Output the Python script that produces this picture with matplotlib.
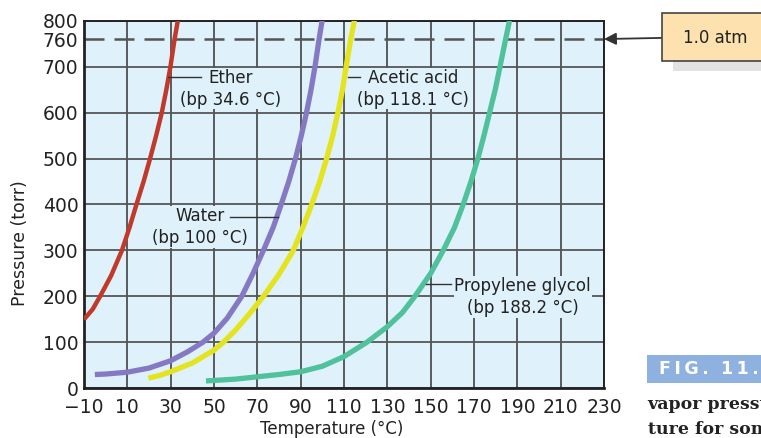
import matplotlib.pyplot as plt
from matplotlib.patches import Rectangle

# okunan veriler (sicaklik C, basinc torr)
ether_t = [-10, -6, -2.6, 2.5, 7.5, 11, 14.2, 17.5, 20.5, 23.3, 25.9, 28, 29.9, 31.8, 33.3]
ether_p = [150, 172, 200, 245, 300, 350, 400, 450, 500, 550, 600, 650, 700, 760, 800]

water_t = [-5, 0, 10, 20, 30, 38, 44.8, 50, 56, 62.8, 68, 72.8, 77.3, 81, 84.5,
           87.6, 90.3, 92.7, 94.8, 96.6, 98.5, 99.9]
water_p = [30, 31, 35, 44, 60, 80, 100, 120, 152, 200, 250, 300, 350, 400, 450,
           500, 550, 600, 650, 700, 760, 800]

acetic_t = [19.7, 25, 30, 40, 50, 54.3, 60, 66, 72.8, 80, 86.6, 91, 95.1, 98.8,
            102, 104.8, 107.2, 109.3, 111, 113.1, 114.8]
acetic_p = [22, 28, 36, 55, 83, 100, 127, 160, 200, 248, 300, 350, 400, 450,
            500, 550, 600, 650, 700, 760, 800]

glycol_t = [46.3, 60, 70, 80, 90, 100, 110, 120.5, 130, 137, 142.7, 150, 155.8,
            161, 165, 168.6, 171.8, 174.6, 177.2, 179.8, 182, 184.6, 186.4]
glycol_p = [16, 20, 25, 30, 36, 48, 69, 100, 134, 165, 200, 250, 300,
            350, 400, 450, 500, 550, 600, 650, 700, 760, 800]

x_ticks = list(range(-10, 231, 20))
y_ticks = [0, 100, 200, 300, 400, 500, 600, 700, 760, 800]

plt.rcParams['font.family'] = ['DejaVu Sans']

fig = plt.figure(figsize=(7.61, 4.38), dpi=100)
ax = fig.add_axes([0.1104, 0.1135, 0.6833, 0.8393])
ax.set_facecolor('#dff1fa')
ax.set_xlim(-10, 230)
ax.set_ylim(0, 800)

# izgara
for x in x_ticks:
    ax.axvline(x, color='#333333', lw=1.1, zorder=1)
for y in range(0, 801, 100):
    ax.axhline(y, color='#555555', lw=1.3, zorder=1)
ax.axhline(760, color='#555555', lw=1.8, dashes=(8, 4), zorder=1)

# egriler
ax.plot(ether_t, ether_p, color='#c0392b', lw=3.2, solid_capstyle='butt',
        solid_joinstyle='round', zorder=3)
ax.plot(water_t, water_p, color='#8679c4', lw=3.8, solid_capstyle='butt',
        solid_joinstyle='round', zorder=3)
ax.plot(acetic_t, acetic_p, color='#e4e41e', lw=3.8, solid_capstyle='butt',
        solid_joinstyle='round', zorder=3)
ax.plot(glycol_t, glycol_p, color='#4fc29b', lw=3.8, solid_capstyle='butt',
        solid_joinstyle='round', zorder=3)

ax.set_xticks(x_ticks)
ax.set_yticks(y_ticks)
ax.tick_params(length=0, labelsize=13.5, colors='#222222', pad=4)
ax.tick_params(axis='x', pad=7)
for s in ax.spines.values():
    s.set_color('#222222')
    s.set_linewidth(1.4)
ax.spines['left'].set_linewidth(2)
ax.spines['bottom'].set_linewidth(2)
ax.set_xlabel('Temperature (°C)', fontsize=12, color='#222222')
ax.set_ylabel('Pressure (torr)', fontsize=12.5, color='#222222')
ax.xaxis.set_label_coords(0.477, -0.086)
ax.yaxis.set_label_coords(-0.106, 0.394)

# etiketler
bg = dict(facecolor='#dff1fa', edgecolor='none', pad=0.5)
lab = dict(fontsize=12, color='#222222', ha='center', va='center', zorder=4,
           linespacing=1.3, bbox=bg)
ax.text(57.6, 652, 'Ether\n(bp 34.6 °C)', **lab)
ax.plot([28.8, 44.0], [677, 677], color='#333333', lw=1, zorder=5)
ax.text(43.5, 351, 'Water\n(bp 100 °C)', **lab)
ax.plot([57.4, 79.5], [373, 373], color='#333333', lw=1, zorder=5)
ax.text(142.0, 652, 'Acetic acid\n(bp 118.1 °C)', **lab)
ax.plot([111.8, 117.6], [677, 677], color='#333333', lw=1, zorder=5)
ax.text(192.4, 199, 'Propylene glycol\n(bp 188.2 °C)', **lab)
ax.plot([148.0, 159.5], [226, 226], color='#333333', lw=1, zorder=5)

# 1.0 atm kutusu
fig.patches.append(Rectangle((0.885, 0.838), 0.14, 0.1, transform=fig.transFigure,
                             facecolor='#d0d0d0', edgecolor='none', alpha=0.6))
fig.patches.append(Rectangle((0.870, 0.861), 0.14, 0.109, transform=fig.transFigure,
                             facecolor='#fde2b0', edgecolor='#444444', lw=1.2))
fig.text(0.94, 0.913, '1.0 atm', fontsize=12, color='#222222',
         ha='center', va='center')
ax.annotate('', xy=(230, 760), xytext=(0.870, 0.9135),
            xycoords='data', textcoords='figure fraction',
            arrowprops=dict(arrowstyle='-|>', color='#333333', lw=1.3,
                            mutation_scale=18, shrinkA=0, shrinkB=0),
            annotation_clip=False)

# sekil basligi
fig.patches.append(Rectangle((0.8506, 0.126), 0.16, 0.063, transform=fig.transFigure,
                             facecolor='#8fb1df', edgecolor='none'))
fig.text(0.866, 0.157, 'F\u2009I\u2009G\u2009.\u2002\u20091\u20091\u2009.', fontsize=12.5,
         color='white', fontweight='bold', ha='left', va='center')
fig.text(0.851, 0.077, 'vapor pressure', fontsize=12.5, color='#222222',
         fontweight='bold', family='DejaVu Serif', ha='left', va='center')
fig.text(0.851, 0.020, 'ture for some', fontsize=12.5, color='#222222',
         fontweight='bold', family='DejaVu Serif', ha='left', va='center')

fig.savefig('out.png', dpi=100)
